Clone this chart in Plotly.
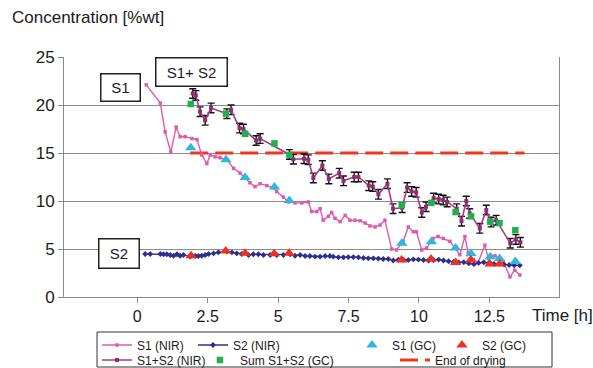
import plotly.graph_objects as go

# Time axis [h] and concentrations [%wt]
s1_nir_t = [0.32, 0.82, 0.99, 1.19, 1.38, 1.52, 1.70, 1.94, 2.12, 2.29, 2.47, 2.59, 2.76, 2.94,
            3.18, 3.42, 3.65, 3.83, 4.0, 4.18, 4.36, 4.6, 4.8, 4.95, 5.19, 5.37, 5.6, 5.84, 6.07,
            6.19, 6.37, 6.49, 6.6, 6.78, 6.9, 7.02, 7.2, 7.38, 7.55, 7.73, 7.91, 8.09, 8.26, 8.44,
            8.62, 8.79, 9.03, 9.2, 9.44, 9.62, 9.8, 9.91, 10.1, 10.27, 10.5, 10.68, 10.86, 11.1,
            11.28, 11.45, 11.63, 11.75, 11.93, 12.1, 12.34, 12.46, 12.7, 12.99, 13.23, 13.4, 13.58]
s1_nir = [22.1, 20.2, 17.2, 15.1, 17.7, 16.7, 16.7, 16.5, 16.4, 14.8, 13.9, 14.8, 14.6, 14.5,
          14.3, 13.4, 12.9, 12.4, 11.9, 11.5, 11.8, 11.6, 11.4, 11.0, 10.4, 9.9, 9.8, 9.8, 9.9,
          8.9, 8.9, 9.2, 8.0, 8.4, 8.8, 8.2, 7.85, 8.5, 8.0, 8.0, 7.95, 7.7, 7.4, 7.3,
          7.5, 8.0, 5.0, 4.9, 5.8, 7.3, 6.8, 6.8, 4.9, 5.1, 6.1, 6.3, 6.1, 5.8,
          5.1, 4.4, 6.3, 4.6, 3.9, 3.6, 5.4, 4.0, 4.3, 3.7, 2.1, 2.8, 2.3]

s2_nir_t = [0.28, 0.46, 0.82, 0.93, 1.05, 1.17, 1.29, 1.41, 1.52, 1.64, 1.88, 2.06, 2.17, 2.29,
            2.41, 2.53, 2.71, 2.88, 3.18, 3.36, 3.53, 3.71, 3.95, 4.12, 4.3, 4.48, 4.72, 4.95,
            5.19, 5.43, 5.6, 5.78, 5.96, 6.13, 6.31, 6.49, 6.67, 6.84, 6.96, 7.14, 7.32, 7.49,
            7.67, 7.85, 8.03, 8.2, 8.38, 8.56, 8.73, 8.91, 9.09, 9.27, 9.45, 9.62, 9.8, 9.98,
            10.16, 10.34, 10.52, 10.7, 10.87, 11.05, 11.23, 11.41, 11.59, 11.77, 11.95, 12.12,
            12.3, 12.48, 12.66, 12.84, 13.02, 13.2, 13.38, 13.58]
s2_nir = [4.48, 4.48, 4.48, 4.45, 4.45, 4.38, 4.3, 4.45, 4.3, 4.38, 4.2, 4.27, 4.27, 4.3,
          4.38, 4.48, 4.55, 4.65, 4.72, 4.65, 4.55, 4.48, 4.38, 4.45, 4.45, 4.38, 4.38, 4.38,
          4.38, 4.45, 4.3, 4.38, 4.27, 4.27, 4.2, 4.2, 4.27, 4.27, 4.2, 4.13, 4.13, 4.16,
          4.16, 4.13, 4.06, 4.03, 4.03, 4.0, 3.96, 3.96, 3.8, 3.88, 3.88, 3.85, 3.92, 3.9,
          3.85, 3.8, 3.85, 3.9, 3.8, 3.72, 3.65, 3.6, 3.62, 3.5, 3.42, 3.55,
          3.62, 3.55, 3.45, 3.45, 3.38, 3.33, 3.3, 3.3]

sum_nir_t = [1.97, 2.08, 2.23, 2.41, 2.62, 3.18, 3.33, 3.63, 3.77, 4.22, 4.36, 5.4, 5.54, 5.92,
             6.07, 6.25, 6.57, 6.80, 7.17, 7.32, 7.70, 7.85, 8.22, 8.36, 8.56, 8.88, 9.08, 9.40,
             9.58, 9.74, 9.90, 10.10, 10.25, 10.52, 10.70, 10.86, 11.0, 11.34, 11.51, 11.68,
             11.80, 12.16, 12.39, 12.56, 12.74, 13.24, 13.44, 13.6]
sum_nir = [21.2, 21.0, 19.3, 18.4, 19.7, 19.1, 19.5, 17.6, 17.5, 16.3, 16.5, 14.85, 14.35, 14.4,
           14.3, 12.4, 13.7, 12.3, 12.9, 12.1, 12.5, 12.5, 11.6, 11.5, 10.7, 11.8, 9.2, 9.3,
           11.4, 11.0, 10.9, 8.8, 9.4, 10.3, 10.2, 10.1, 9.9, 9.2, 7.9, 10.0,
           8.7, 7.15, 9.06, 7.8, 8.0, 5.6, 6.0, 5.7]
sum_nir_err = 0.5

gc_t = [1.90, 3.15, 3.83, 4.87, 5.40, 9.39, 10.44, 11.30, 11.85, 12.53, 12.86, 13.42]
s1_gc = [15.55, 14.3, 12.45, 11.45, 10.05, 5.6, 5.75, 5.1, 4.5, 4.2, 4.0, 3.7]
sum_gc = [20.1, 19.1, 17.0, 16.0, 14.8, 9.55, 9.8, 8.85, 8.4, 7.85, 7.7, 6.95]
s2_gc_t = [1.91, 3.14, 3.83, 4.86, 5.39, 9.38, 10.43, 11.30, 11.84, 12.52, 12.86]
s2_gc = [4.3, 4.8, 4.55, 4.5, 4.55, 3.85, 3.95, 3.6, 3.85, 3.45, 3.45]

drying_t = [1.88, 13.75]
drying_level = [15, 15]

x_ticks = [0, 2.5, 5, 7.5, 10, 12.5]
x_tick_text = ["0", "2.5", "5", "7.5", "10", "12.5"]
y_ticks = [0, 5, 10, 15, 20, 25]

FONT = "Liberation Sans, Arial, sans-serif"
TXT = "#1a1a1a"

fig = go.Figure()

fig.add_trace(go.Scatter(
    x=drying_t, y=drying_level, mode="lines", name="End of drying", legend="legend6",
    line=dict(color="#F0361C", width=3.2, dash="18px,7px")))

fig.add_trace(go.Scatter(
    x=s1_nir_t, y=s1_nir, mode="lines+markers", name="S1 (NIR)", legend="legend",
    line=dict(color="#DD5CAA", width=1.4),
    marker=dict(symbol="square", size=3.5, color="#DD5CAA")))

fig.add_trace(go.Scatter(
    x=s2_nir_t, y=s2_nir, mode="lines+markers", name="S2 (NIR)", legend="legend3",
    line=dict(color="#2F2E8C", width=1.3),
    marker=dict(symbol="diamond", size=4.5, color="#2F2E8C")))

fig.add_trace(go.Scatter(
    x=sum_nir_t, y=sum_nir, mode="lines+markers", name="S1+S2 (NIR)", legend="legend2",
    line=dict(color="#A23A86", width=1.6),
    marker=dict(symbol="square", size=4, color="#8E2C72"),
    error_y=dict(type="constant", value=sum_nir_err, color="#111111", thickness=1.4, width=3.5)))

fig.add_trace(go.Scatter(
    x=gc_t, y=s1_gc, mode="markers", name="S1 (GC)", legend="legend5",
    marker=dict(symbol="triangle-up", size=10, color="#2CB8DF")))

fig.add_trace(go.Scatter(
    x=s2_gc_t, y=s2_gc, mode="markers", name="S2 (GC)", legend="legend7",
    marker=dict(symbol="triangle-up", size=10, color="#EE3020")))

fig.add_trace(go.Scatter(
    x=gc_t, y=sum_gc, mode="markers", name="Sum S1+S2 (GC)", legend="legend4",
    marker=dict(symbol="square", size=6.5, color="#22B04E")))

# Series labels in boxes
box_style = dict(showarrow=False, bgcolor="white", bordercolor="#222222", borderwidth=1.5,
                 borderpad=2, font=dict(family=FONT, size=15, color=TXT),
                 xref="x", yref="y")
fig.add_annotation(x=-0.58, y=21.8, text="S1", width=34, height=22, **box_style)
fig.add_annotation(x=1.93, y=23.4, text="S1+ S2", width=66, height=23, **box_style)
fig.add_annotation(x=-0.64, y=4.48, text="S2", width=35, height=24, **box_style)

# Axis titles
fig.add_annotation(x=-0.109, y=1.1625, xref="paper", yref="paper", xanchor="left",
                   yanchor="middle", text="Concentration [%wt]", showarrow=False,
                   font=dict(family=FONT, size=17, color=TXT))
fig.add_annotation(x=0.9414, y=-0.075, xref="paper", yref="paper", xanchor="left",
                   yanchor="middle", text="Time [h]", showarrow=False,
                   font=dict(family=FONT, size=17, color=TXT))

# Legend frame
fig.add_shape(type="rect", xref="paper", yref="paper", x0=0.0667, x1=0.9859,
              y0=-0.2917, y1=-0.1458, line=dict(color="#333333", width=1),
              fillcolor="white", layer="below")


def leg(x, y):
    return dict(x=x, y=y, xanchor="left", yanchor="middle", bgcolor="rgba(0,0,0,0)",
                borderwidth=0, font=dict(family=FONT, size=12, color=TXT),
                orientation="v", itemwidth=30)


row1, row2 = -0.2, -0.2625
fig.update_layout(
    width=593, height=368,
    margin=dict(l=64, r=34, t=57, b=71, autoexpand=False),
    paper_bgcolor="white", plot_bgcolor="white",
    showlegend=True,
    legend=leg(0.0667, row1),
    legend2=leg(0.0667, row2),
    legend3=leg(0.2606, row1),
    legend4=leg(0.2747, row2),
    legend5=leg(0.5818, row1),
    legend6=leg(0.6687, row2),
    legend7=leg(0.7636, row1),
    xaxis=dict(range=[-2.6, 14.97], tickvals=x_ticks, ticktext=x_tick_text,
               showgrid=False, zeroline=False, showline=True, linecolor="#8a8a8a",
               linewidth=1, ticks="outside", ticklen=5, tickcolor="#8a8a8a",
               tickfont=dict(family=FONT, size=16, color=TXT)),
    yaxis=dict(range=[0, 25], tickvals=y_ticks, showgrid=True, gridcolor="#8c8c8c",
               gridwidth=1, zeroline=False, showline=True, mirror=True,
               linecolor="#8a8a8a", linewidth=1, ticks="outside", ticklen=5,
               tickcolor="#8a8a8a", tickfont=dict(family=FONT, size=17, color=TXT)),
)

fig.write_html("out.html")
